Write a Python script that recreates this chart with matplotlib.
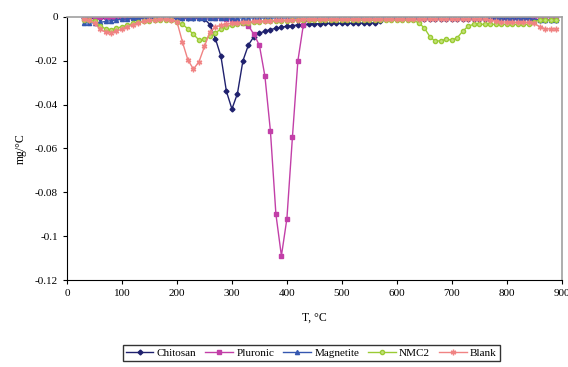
import matplotlib
matplotlib.use("Agg")
import matplotlib.pyplot as plt

plt.rcParams['font.family'] = ['Liberation Serif', 'DejaVu Serif']

# temperature, deg C (every 10 deg from 30 to 890)
temp = list(range(30, 900, 10))

chitosan = [-0.0005, -0.0005, -0.0005, -0.0005, -0.0004, -0.0004, -0.0003, -0.0003,
            -0.0003, -0.0003, -0.0003, -0.0003, -0.0003, -0.0003, -0.0003, -0.0003,
            -0.0003, -0.0003, -0.0003, -0.0003, -0.0003, -0.0003, -0.001, -0.0035,
            -0.010, -0.018, -0.034, -0.042, -0.035, -0.020, -0.0128, -0.009,
            -0.0075, -0.0065, -0.0058, -0.0052, -0.0047, -0.0043, -0.004, -0.0037,
            -0.0035, -0.0033, -0.0032, -0.0031, -0.003, -0.003, -0.003, -0.003,
            -0.003, -0.0029, -0.0029, -0.0029, -0.0028, -0.0028, -0.002, -0.001,
            -0.0008, -0.0008, -0.0008, -0.0008, -0.0008, -0.0008, -0.0008, -0.0008,
            -0.0008, -0.0008, -0.0008, -0.0008, -0.0008, -0.0008, -0.0008, -0.0008,
            -0.0008, -0.0008, -0.0008, -0.0008, -0.0008, -0.0008, -0.0008, -0.0008,
            -0.0008, -0.0008, -0.001, -0.0015, -0.0015, -0.0015, -0.0015]

pluronic = [0.0, 0.0, 0.0, 0.0, 0.0, 0.0, 0.0, 0.0,
            0.0, 0.0, 0.0, 0.0, 0.0, 0.0, 0.0, 0.0,
            0.0, 0.0, 0.0, 0.0, 0.0, 0.0, 0.0, -0.0002,
            -0.0003, -0.0005, -0.0008, -0.0012, -0.002, -0.003, -0.004, -0.008,
            -0.013, -0.027, -0.052, -0.090, -0.109, -0.092, -0.055, -0.020,
            -0.0035, -0.001, -0.0005, -0.0004, -0.0003, -0.0003, -0.0003, -0.0003,
            -0.0003, -0.0002, -0.0002, -0.0002, -0.0002, -0.0002, -0.0002, -0.0002,
            -0.0002, -0.0002, -0.0002, -0.0002, -0.0002, -0.0002, -0.0002, -0.0002,
            -0.0002, -0.0002, -0.0002, -0.0002, -0.0002, -0.0002, -0.0002, -0.0002,
            -0.0002, -0.0002, -0.0002, -0.0002, -0.0002, -0.0002, -0.0002, -0.0002,
            -0.0002, -0.0002, -0.0002, -0.0002, -0.0002, -0.0002, -0.0002]

magnetite = [-0.0027, -0.0027, -0.0027, -0.0025, -0.0021, -0.0017, -0.0014, -0.0011,
             -0.0009, -0.0007, -0.0006, -0.0005, -0.0005, -0.0005, -0.0005, -0.0005,
             -0.0005, -0.0005, -0.0005, -0.0005, -0.0005, -0.0005, -0.0005, -0.0005,
             -0.0005, -0.0005, -0.0005, -0.0005, -0.0005, -0.0005, -0.0005, -0.0005,
             -0.0005, -0.0005, -0.0005, -0.0005, -0.0005, -0.0005, -0.0005, -0.0005,
             -0.0005, -0.0005, -0.0005, -0.0005, -0.0005, -0.0005, -0.0005, -0.0005,
             -0.0005, -0.0005, -0.0005, -0.0005, -0.0005, -0.0005, -0.0005, -0.0005,
             -0.0005, -0.0005, -0.0005, -0.0005, -0.0005, -0.0005, -0.0005, -0.0005,
             -0.0005, -0.0005, -0.0005, -0.0005, -0.0005, -0.0005, -0.0005, -0.0005,
             -0.0005, -0.0005, -0.0005, -0.0005, -0.0005, -0.0005, -0.0005, -0.0005,
             -0.0005, -0.0007, -0.0012, -0.0015, -0.0015, -0.0015, -0.0015]

nmc2 = [-0.0015, -0.0015, -0.002, -0.004, -0.0055, -0.0058, -0.0052, -0.0045,
        -0.0038, -0.003, -0.0025, -0.002, -0.0017, -0.0014, -0.0012, -0.0012,
        -0.0015, -0.0025, -0.0033, -0.0055, -0.008, -0.0105, -0.0103, -0.0088,
        -0.0072, -0.0056, -0.0045, -0.0038, -0.0033, -0.003, -0.0027, -0.0025,
        -0.0023, -0.0021, -0.002, -0.0019, -0.0018, -0.0017, -0.0015, -0.0015,
        -0.0015, -0.0015, -0.0015, -0.0015, -0.0015, -0.0015, -0.0015, -0.0015,
        -0.0015, -0.0015, -0.0015, -0.0015, -0.0015, -0.0015, -0.0015, -0.0015,
        -0.0015, -0.0015, -0.0015, -0.0015, -0.0015, -0.0028, -0.005, -0.009,
        -0.0112, -0.0108, -0.0102, -0.0106, -0.0095, -0.0065, -0.0042, -0.0034,
        -0.0034, -0.0034, -0.0034, -0.0034, -0.0034, -0.0034, -0.0034, -0.0034,
        -0.0034, -0.0034, -0.0022, -0.0015, -0.0015, -0.0015, -0.0015]

blank = [-0.001, -0.0015, -0.003, -0.0055, -0.007, -0.0072, -0.0065, -0.0055,
         -0.0045, -0.0035, -0.0027, -0.002, -0.0015, -0.0012, -0.001, -0.001,
         -0.0012, -0.0022, -0.0115, -0.0197, -0.0238, -0.0205, -0.0135, -0.0068,
         -0.0046, -0.0038, -0.0033, -0.003, -0.0027, -0.0025, -0.0023, -0.0021,
         -0.002, -0.0018, -0.0017, -0.0016, -0.0015, -0.0014, -0.0013, -0.0012,
         -0.001, -0.001, -0.001, -0.001, -0.001, -0.001, -0.001, -0.001,
         -0.001, -0.001, -0.001, -0.001, -0.001, -0.001, -0.001, -0.001,
         -0.001, -0.001, -0.001, -0.001, -0.001, -0.001, -0.001, -0.001,
         -0.001, -0.001, -0.001, -0.001, -0.001, -0.001, -0.001, -0.001,
         -0.001, -0.001, -0.0015, -0.002, -0.0022, -0.0025, -0.0025, -0.0025,
         -0.0025, -0.0025, -0.003, -0.0045, -0.0055, -0.0055, -0.0055]

fig = plt.figure(figsize=(5.68, 3.67), dpi=100)
ax = fig.add_axes([0.118, 0.237, 0.871, 0.717])

ax.plot(temp, chitosan, color='#1f216e', marker='D', ms=2.5, lw=1, label='Chitosan')
ax.plot(temp, pluronic, color='#c23fa8', marker='s', ms=2.8, lw=1, label='Pluronic')
ax.plot(temp, magnetite, color='#3557b0', marker='^', ms=3, lw=1, label='Magnetite')
ax.plot(temp, nmc2, color='#9acb34', marker='o', ms=3, lw=1, mfc='#c4e07a', label='NMC2')
ax.plot(temp, blank, color='#f08383', marker=(6, 2, 0), ms=4, lw=1, label='Blank')

ax.set_xlim(0, 900)
ax.set_ylim(-0.12, 0)
ax.set_xticks(range(0, 1000, 100))
ax.set_yticks([0, -0.02, -0.04, -0.06, -0.08, -0.1, -0.12])
ax.set_yticklabels(['0', '-0.02', '-0.04', '-0.06', '-0.08', '-0.1', '-0.12'])
ax.tick_params(labelsize=8, length=3, width=0.8, direction='out')

for s in ['top', 'right']:
    ax.spines[s].set_color('#a0a0a0')
    ax.spines[s].set_linewidth(1.2)

ax.set_xlabel('T, °C', fontsize=8.5, labelpad=10)
ax.set_ylabel('mg/°C', fontsize=8.5, labelpad=6)

fig.legend(loc='center', bbox_to_anchor=(0.548, 0.038), ncol=5, fontsize=8,
           frameon=True, fancybox=False, edgecolor='black', handlelength=2.5,
           columnspacing=0.8, handletextpad=0.3, borderpad=0.25)

fig.savefig('out.png', dpi=100)
